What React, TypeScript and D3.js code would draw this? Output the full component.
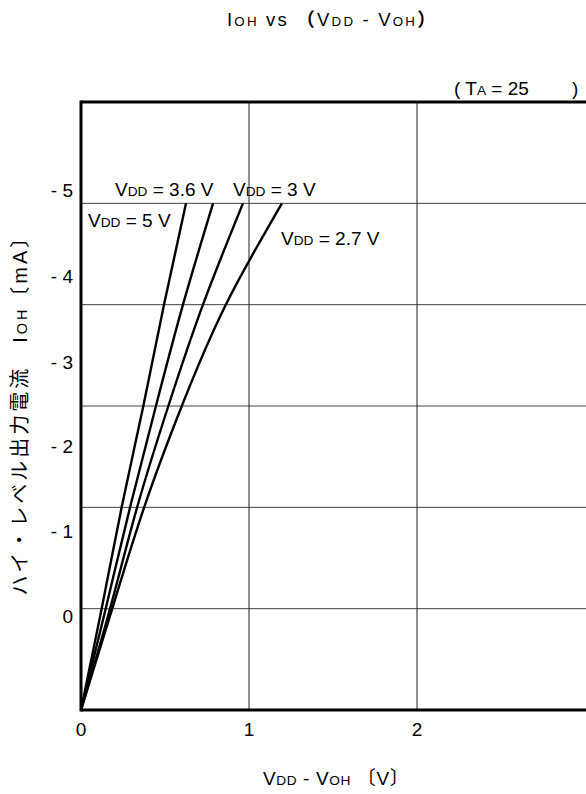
import * as d3 from "d3";

// ---------------------------------------------------------------------------
// Data (x in volts, y in grid rows counted up from the bottom frame)
// ---------------------------------------------------------------------------

const ROWS = [0, 1, 2, 3, 4, 5];
const VDD_5_X = [0, 0.123, 0.242, 0.371, 0.494, 0.625];
const VDD_36_X = [0, 0.147, 0.292, 0.446, 0.607, 0.786];
const VDD_3_X = [0, 0.173, 0.334, 0.52, 0.726, 0.964];
const VDD_27_X = [0, 0.186, 0.376, 0.6, 0.862, 1.196];

const X_TICKS = [0, 1, 2];
const Y_TICK_LABELS = ["- 5", "- 4", "- 3", "- 2", "- 1", "0"];
const Y_TICK_POS = [5.13, 4.28, 3.43, 2.6, 1.76, 0.92];

const SERIES = [
  { name: "5", xs: VDD_5_X },
  { name: "3.6", xs: VDD_36_X },
  { name: "3", xs: VDD_3_X },
  { name: "2.7", xs: VDD_27_X },
];

// ---------------------------------------------------------------------------
// Layout
// ---------------------------------------------------------------------------

const W = 586;
const H = 794;
const FONT = "Arial, 'Liberation Sans', Helvetica, sans-serif";
const JP_FONT = "'Noto Sans CJK JP', Arial, sans-serif";
const FS = 19;

const x = d3.scaleLinear().domain([0, 3]).range([81, 585]);
const y = d3.scaleLinear().domain([0, 6]).range([710, 102]);

const line = d3
  .line<[number, number]>()
  .x((d) => x(d[0]))
  .y((d) => y(d[1]))
  .curve(d3.curveNatural);

function Sub({ t }: { t: string }) {
  return <tspan fontSize="0.72em">{t}</tspan>;
}

export default function App() {
  return (
    <div style={{ position: "absolute", left: 0, top: 0 }}>
      <svg width={W} height={H} style={{ display: "block", background: "#fff" }}>
        {/* title */}
        <text x={227} y={26} fontFamily={FONT} fontSize={18.5} letterSpacing={2.2} fill="#000">
          I<Sub t="OH" /> vs <tspan fontFamily={JP_FONT} fontWeight={700}>（</tspan>V
          <Sub t="DD" /> - V<Sub t="OH" />
          <tspan fontFamily={JP_FONT} fontWeight={700}>）</tspan>
        </text>

        {/* condition */}
        <text x={454} y={95} fontFamily={FONT} fontSize={FS} fill="#000">
          ( T<Sub t="A" /> = 25
        </text>
        <text x={572} y={95} fontFamily={FONT} fontSize={FS} fill="#000">
          )
        </text>

        {/* horizontal grid */}
        {ROWS.slice(1).map((r) => (
          <line key={r} x1={x(0)} x2={W} y1={y(r)} y2={y(r)} stroke="#444" strokeWidth={1} />
        ))}
        {/* vertical grid */}
        {X_TICKS.slice(1).map((t) => (
          <line key={t} x1={x(t)} x2={x(t)} y1={y(6)} y2={y(0)} stroke="#222" strokeWidth={1} />
        ))}

        {/* curves */}
        {SERIES.map((s) => (
          <path
            key={s.name}
            d={line(s.xs.map((v, i) => [v, ROWS[i]] as [number, number])) ?? ""}
            fill="none"
            stroke="#000"
            strokeWidth={2.4}
          />
        ))}

        {/* frame */}
        <line x1={x(0)} x2={W} y1={y(6)} y2={y(6)} stroke="#000" strokeWidth={3} />
        <line x1={x(0)} x2={W} y1={y(0)} y2={y(0)} stroke="#000" strokeWidth={3} />
        <line x1={x(0)} x2={x(0)} y1={y(6) - 1.5} y2={y(0) + 1.5} stroke="#000" strokeWidth={3} />

        {/* curve labels */}
        <text x={115} y={196} fontFamily={FONT} fontSize={FS}>
          V<Sub t="DD" /> = 3.6 V
        </text>
        <text x={233} y={196} fontFamily={FONT} fontSize={FS}>
          V<Sub t="DD" /> = 3 V
        </text>
        <text x={88} y={227} fontFamily={FONT} fontSize={FS}>
          V<Sub t="DD" /> = 5 V
        </text>
        <text x={281} y={245} fontFamily={FONT} fontSize={FS}>
          V<Sub t="DD" /> = 2.7 V
        </text>

        {/* y tick labels */}
        {Y_TICK_LABELS.map((l, i) => (
          <text
            key={l}
            x={73}
            y={y(Y_TICK_POS[i])}
            dy="0.35em"
            textAnchor="end"
            fontFamily={FONT}
            fontSize={FS}
          >
            {l}
          </text>
        ))}

        {/* x tick labels */}
        {X_TICKS.map((t) => (
          <text key={t} x={x(t)} y={736} textAnchor="middle" fontFamily={FONT} fontSize={FS}>
            {t}
          </text>
        ))}

        {/* x axis title */}
        <text x={263} y={785} fontFamily={FONT} fontSize={FS} letterSpacing={0.6}>
          V<Sub t="DD" /> - V<Sub t="OH" /> <tspan fontFamily={JP_FONT}>〔</tspan>V
          <tspan fontFamily={JP_FONT}>〕</tspan>
        </text>

        {/* y axis title */}
        <text
          transform="translate(27,410) rotate(-90)"
          textAnchor="middle"
          fontFamily={JP_FONT}
          fontSize={20}
          letterSpacing={3}
        >
          {"ハイ・レベル出力電流\u3000"}
          <tspan fontFamily={FONT}>
            I<Sub t="OH" />
          </tspan>
          {"〔"}
          <tspan fontFamily={FONT}>mA</tspan>
          {"〕"}
        </text>
      </svg>
    </div>
  );
}
